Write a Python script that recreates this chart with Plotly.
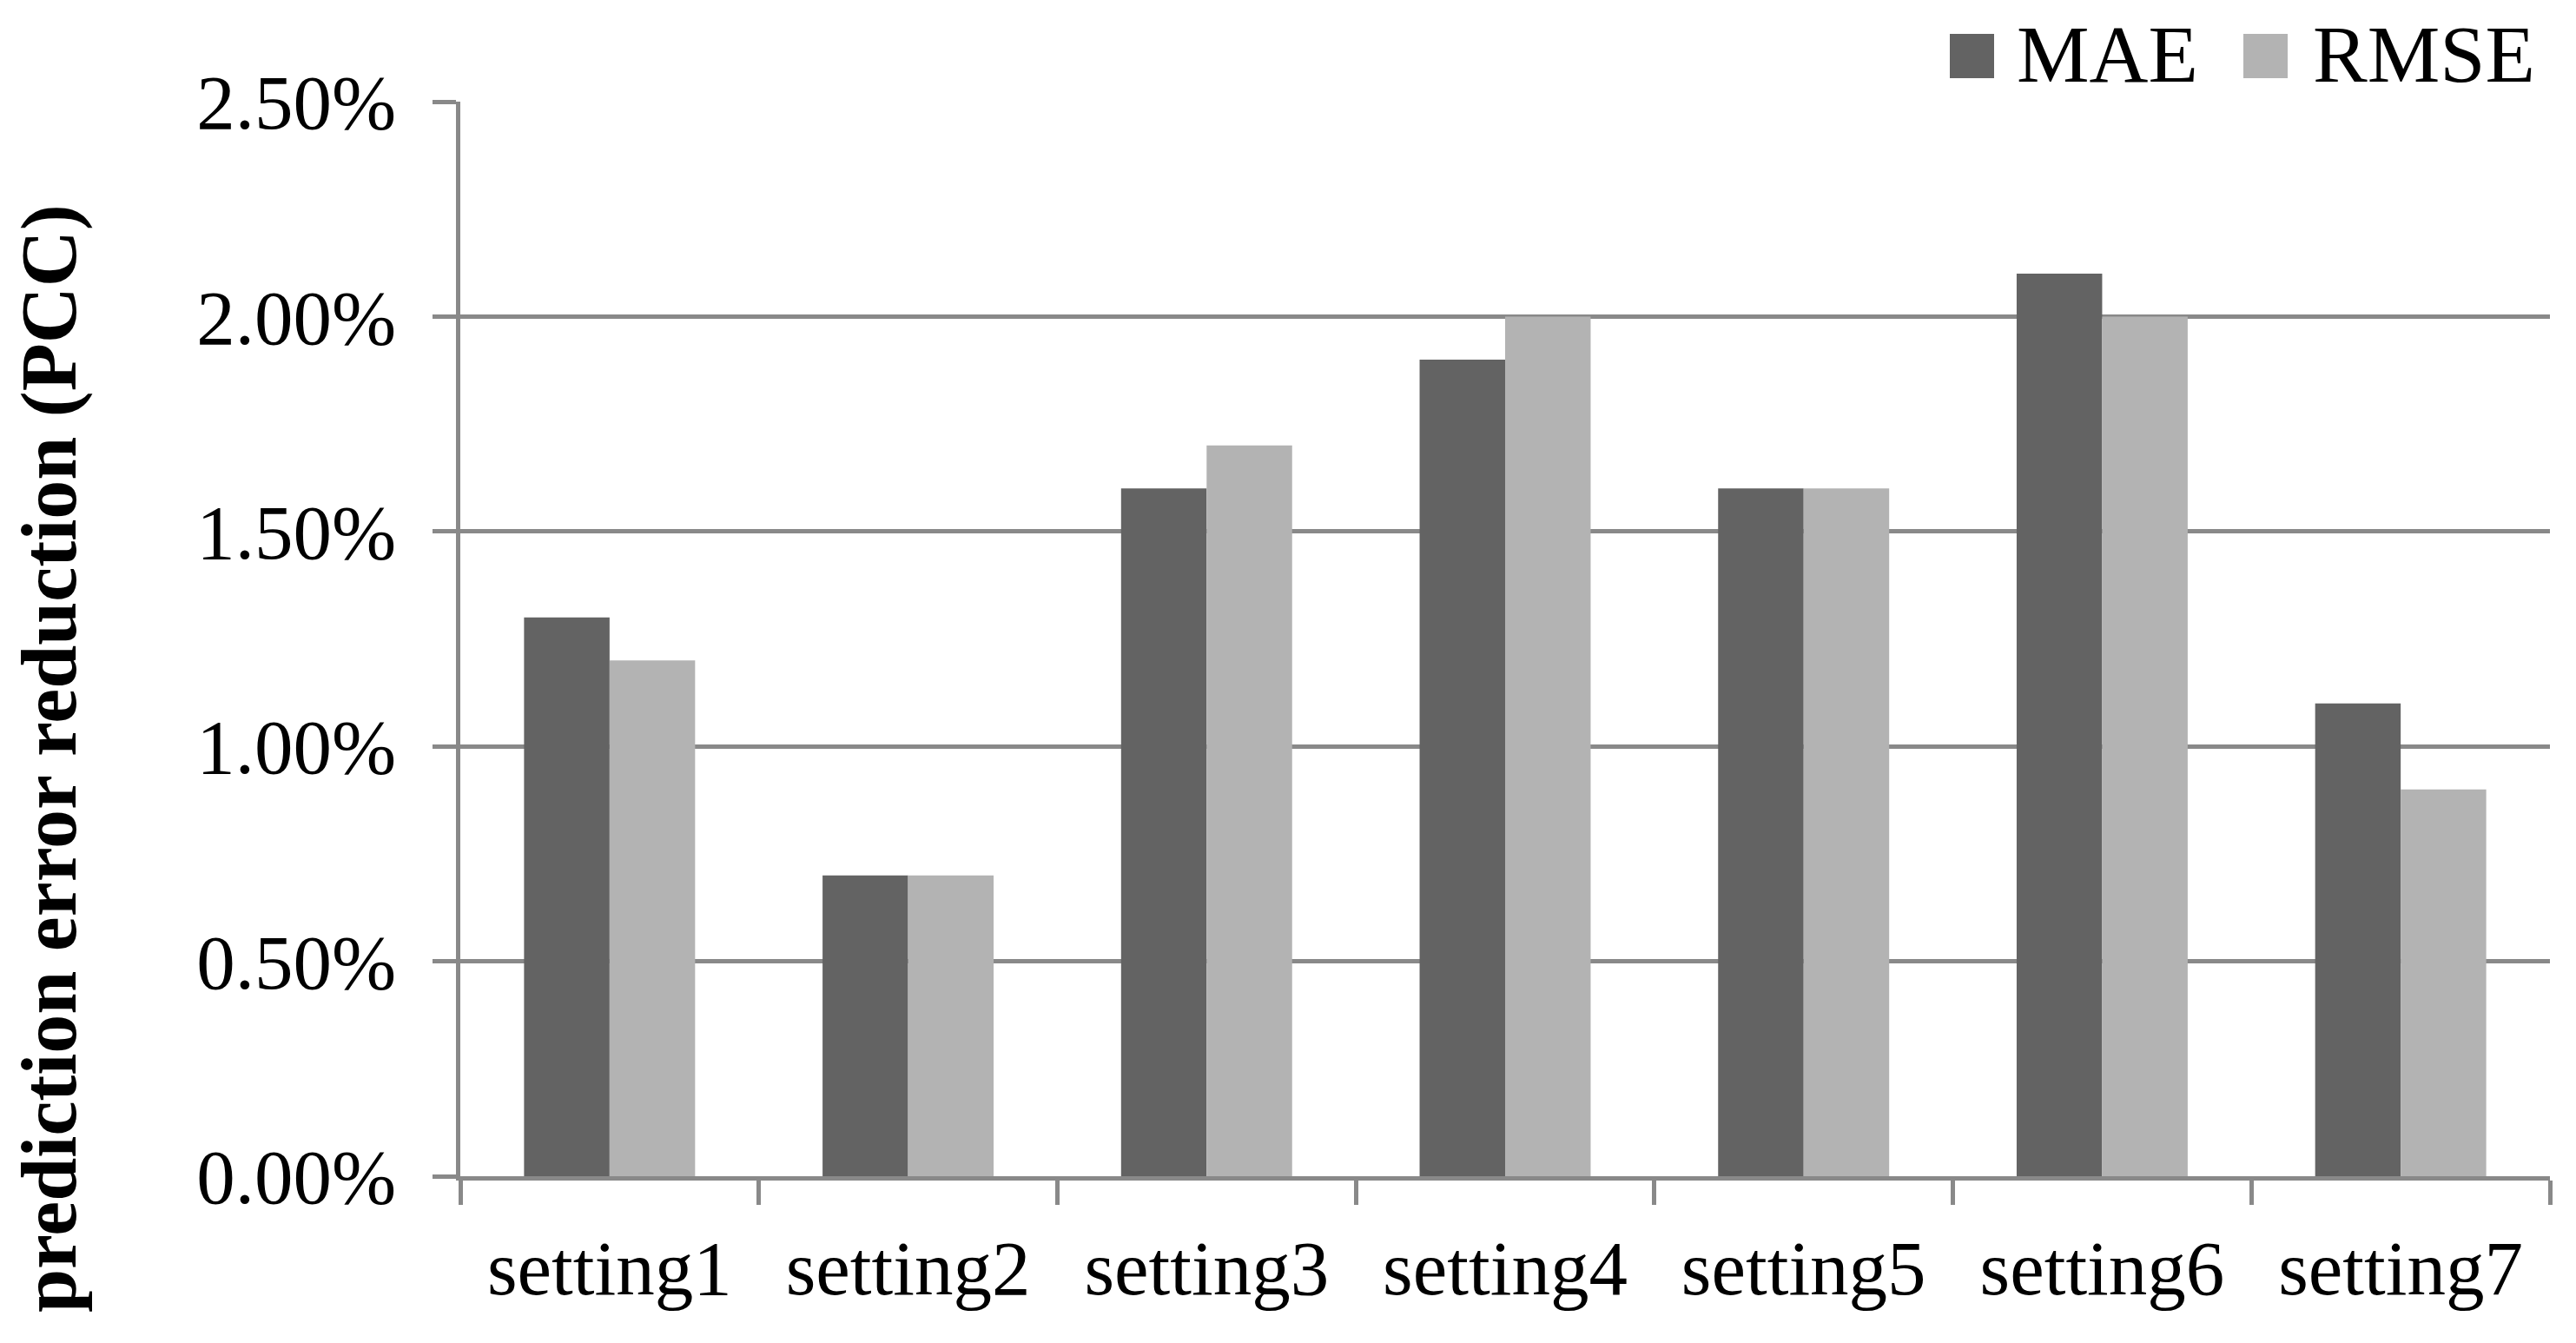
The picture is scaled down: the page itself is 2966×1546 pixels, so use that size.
import plotly.graph_objects as go

categories = ["setting1", "setting2", "setting3", "setting4", "setting5", "setting6", "setting7"]
mae = [0.013, 0.007, 0.016, 0.019, 0.016, 0.021, 0.011]
rmse = [0.012, 0.007, 0.017, 0.020, 0.016, 0.020, 0.009]
series_names = ["MAE", "RMSE"]
colors = ["#636363", "#b3b3b3"]
y_title = "prediction error reduction (PCC)"

W, H = 2966, 1546
OFF = 8  # default body margin of the html page
# target plot area in page pixels: x 530..2936, y 117..1354
L = 530 - OFF
T = 117 - OFF
R = W - (2936 - OFF)
B = H - (1354 - OFF)
pw, ph = W - L - R, H - T - B

def px_x(x):
    return (x - OFF - L) / pw

def px_y(y):
    return (OFF + T + ph - y) / ph

FONT = "Liberation Serif"
GRID = "#898989"

fig = go.Figure()
for name, vals, col in zip(series_names, [mae, rmse], colors):
    fig.add_trace(go.Bar(x=categories, y=vals, name=name, marker=dict(color=col, line=dict(width=0)),
                         showlegend=False))

fig.update_layout(
    width=W, height=H,
    margin=dict(l=L, r=R, t=T, b=B, pad=0),
    paper_bgcolor="white", plot_bgcolor="white",
    barmode="group", bargap=0.427, bargroupgap=0,
    font=dict(family=FONT, color="black"),
)
fig.update_yaxes(
    range=[0, 0.025], dtick=0.005, tick0=0, tickformat=".2%",
    showgrid=True, gridcolor=GRID, gridwidth=5,
    showline=True, linecolor=GRID, linewidth=5,
    ticks="outside", ticklen=27, tickwidth=5, tickcolor=GRID,
    tickfont=dict(family=FONT, size=89, color="black"),
    ticklabelstandoff=24,
    zeroline=False, fixedrange=True,
)
fig.update_xaxes(
    showline=True, linecolor=GRID, linewidth=5,
    ticks="outside", ticklen=28, tickwidth=5, tickcolor=GRID,
    tickson="boundaries",
    tickfont=dict(family=FONT, size=89, color="black"),
    ticklabelstandoff=24,
    showgrid=False, fixedrange=True,
)

# y-axis title
fig.add_annotation(text="<b>" + y_title + "</b>", textangle=-90,
                   xref="paper", yref="paper", x=px_x(57), y=px_y(873),
                   xanchor="center", yanchor="middle", showarrow=False,
                   font=dict(family=FONT, size=90, color="black"))

# custom legend
legend_items = [(2245, 2320), (2583, 2661)]
for (sx, tx), name, col in zip(legend_items, series_names, colors):
    fig.add_shape(type="rect", xref="paper", yref="paper",
                  x0=px_x(sx), x1=px_x(sx + 51), y0=px_y(90), y1=px_y(39),
                  fillcolor=col, line=dict(width=0))
    fig.add_annotation(text=name, xref="paper", yref="paper", x=px_x(tx), y=px_y(62),
                       xanchor="left", yanchor="middle", showarrow=False,
                       font=dict(family=FONT, size=94, color="black"))

fig.write_html("out.html")
